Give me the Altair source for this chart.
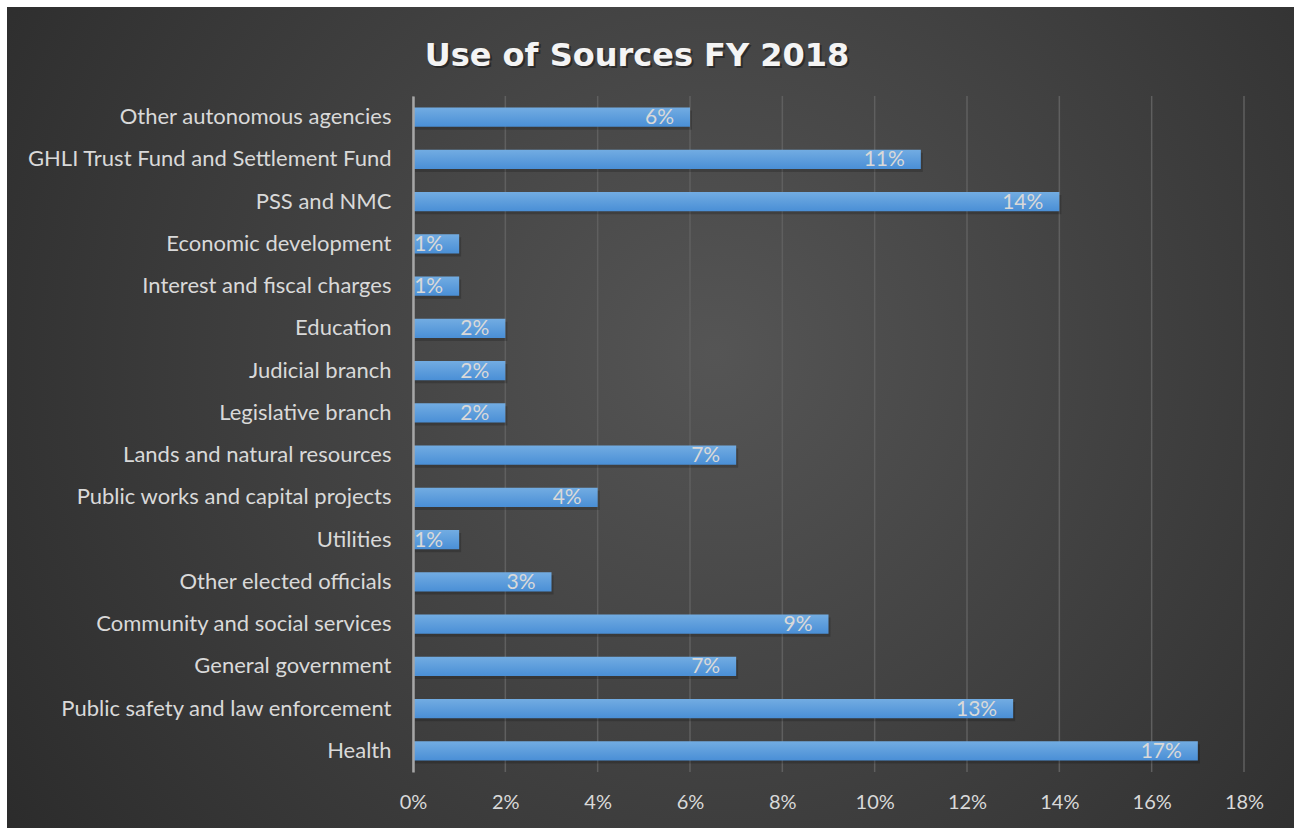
import altair as alt
import pandas as pd

title_text = "Use of Sources FY 2018"
categories = [
    "Other autonomous agencies",
    "GHLI Trust Fund and Settlement Fund",
    "PSS and NMC",
    "Economic development",
    "Interest and fiscal charges",
    "Education",
    "Judicial branch",
    "Legislative branch",
    "Lands and natural resources",
    "Public works and capital projects",
    "Utilities",
    "Other elected officials",
    "Community and social services",
    "General government",
    "Public safety and law enforcement",
    "Health",
]
values = [6, 11, 14, 1, 1, 2, 2, 2, 7, 4, 1, 3, 9, 7, 13, 17]
tick_values = [0, 2, 4, 6, 8, 10, 12, 14, 16, 18]

df = pd.DataFrame({
    "category": categories,
    "value": [v / 100 for v in values],
    "label": [f"{v}%" for v in values],
})
grid_df = pd.DataFrame({"tick": [t / 100 for t in tick_values]})
title_df = pd.DataFrame({"t": [title_text]})

W, H = 831, 676
LEFT, TOP = 413, 96

font = "Lato"
txt_col = "#d9d9d9"

xscale = alt.Scale(domain=[0, 0.18], nice=False, zero=True)
yscale = alt.Scale(domain=categories, paddingInner=0.55, paddingOuter=0.275)

bg = alt.Chart(pd.DataFrame({"a": [0]})).mark_rect(
    fill=alt.Gradient(
        gradient="radial",
        stops=[
            alt.GradientStop(color="#555555", offset=0),
            alt.GradientStop(color="#262626", offset=1),
        ],
        x1=0.55, y1=0.45, r1=0, x2=0.55, y2=0.45, r2=0.75,
    ),
    strokeWidth=0,
).encode(
    x=alt.value(7 - LEFT), x2=alt.value(1294 - LEFT),
    y=alt.value(7 - TOP), y2=alt.value(828 - TOP),
)

title_shadow = alt.Chart(title_df).mark_text(
    font="DejaVu Sans", fontSize=32, fontWeight="bold", color="#111111",
    opacity=0.5, align="center", baseline="alphabetic",
).encode(x=alt.value(637 - LEFT + 2), y=alt.value(66 - TOP + 2), text="t:N")

title = alt.Chart(title_df).mark_text(
    font="DejaVu Sans", fontSize=32, fontWeight="bold", color="#f4f4f4",
    align="center", baseline="alphabetic",
).encode(x=alt.value(637 - LEFT), y=alt.value(66 - TOP), text="t:N")

grid = alt.Chart(grid_df).mark_rule(color="#5f5f5f", strokeWidth=1.5).encode(
    x=alt.X("tick:Q", scale=xscale),
    y=alt.value(0), y2=alt.value(H),
)

shadow = alt.Chart(df).mark_bar(color="#000000", opacity=0.18, xOffset=2, yOffset=3).encode(
    x=alt.X("value:Q", scale=xscale),
    y=alt.Y("category:N", sort=categories, scale=yscale),
)

bars = alt.Chart(df).mark_bar(
    fill=alt.Gradient(
        gradient="linear",
        stops=[
            alt.GradientStop(color="#72ace2", offset=0),
            alt.GradientStop(color="#4a8fd6", offset=1),
        ],
        x1=0, y1=0, x2=0, y2=1,
    ),
).encode(
    x=alt.X(
        "value:Q", scale=xscale,
        axis=alt.Axis(
            values=[t / 100 for t in tick_values], format=".0%", title=None,
            grid=False, domain=False, ticks=False, labelPadding=20,
            labelFlush=False, labelFont=font, labelFontSize=20,
            labelColor=txt_col, zindex=1,
        ),
    ),
    y=alt.Y(
        "category:N", sort=categories, scale=yscale,
        axis=alt.Axis(
            title=None, ticks=False, domain=True, domainColor="#a6a6a6",
            domainWidth=2.5, labelPadding=22, labelFont=font, labelFontSize=22,
            labelColor=txt_col, labelLimit=400, zindex=1,
        ),
    ),
)

labels = alt.Chart(df).mark_text(
    align="right", baseline="middle", dx=-16, dy=1,
    font=font, fontSize=21, color=txt_col,
).encode(
    x=alt.X("value:Q", scale=xscale),
    y=alt.Y("category:N", sort=categories, scale=yscale),
    text="label:N",
)

chart = alt.layer(bg, title_shadow, title, grid, shadow, bars, labels).properties(
    width=W, height=H,
    autosize=alt.AutoSizeParams(type="none"),
    padding={"left": LEFT, "top": TOP, "right": 1294 - LEFT - W, "bottom": 828 - TOP - H},
).configure(background="#ffffff").configure_view(stroke=None)

chart.save("out.html", embed_options={"renderer": "svg", "actions": False})
